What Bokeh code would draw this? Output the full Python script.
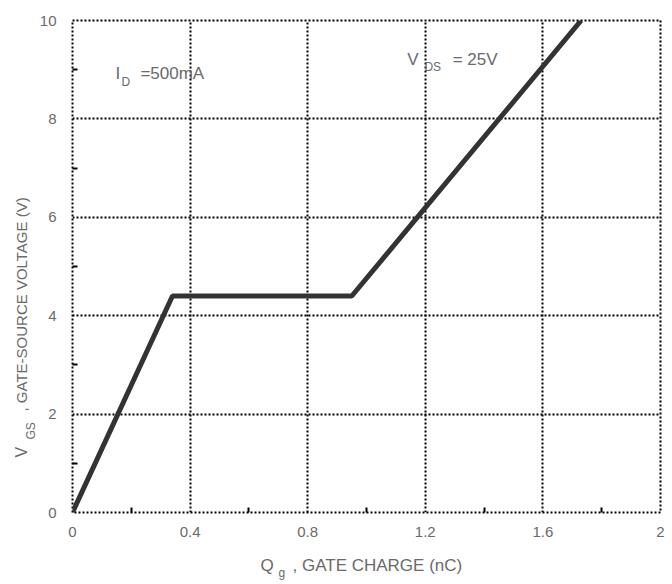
import math
from bokeh.plotting import figure
from bokeh.layouts import row, column
from bokeh.models import Range1d, FixedTicker, Label
from bokeh.embed import file_html
from bokeh.resources import INLINE

# Gate charge curve: Q_g (nC) vs V_GS (V)
qg = [0.0, 0.34, 0.95, 1.73]
vgs = [0.0, 4.4, 4.4, 10.0]

x_ticks = [0, 0.4, 0.8, 1.2, 1.6, 2]
x_tick_labels = ["0", "0.4", "0.8", "1.2", "1.6", "2"]
x_minor = [0.2, 0.6, 1.0, 1.4, 1.8]
y_ticks = [0, 2, 4, 6, 8, 10]
y_tick_labels = ["0", "2", "4", "6", "8", "10"]
y_minor = [1, 3, 5, 7, 9]

FONT = "Liberation Sans"
TXT = "#6a6a6a"

p = figure(width=636, height=544, output_backend="svg", toolbar_location=None,
           x_range=Range1d(0, 2), y_range=Range1d(0, 10),
           min_border_left=36, min_border_right=12, min_border_top=20,
           min_border_bottom=32, background_fill_color="white",
           border_fill_color="white")

p.outline_line_color = "black"
p.outline_line_width = 2
p.outline_line_dash = "2 2"

for ax in (p.xaxis[0], p.yaxis[0]):
    ax.axis_line_color = None
    ax.major_tick_line_color = None
    ax.minor_tick_line_color = "black"
    ax.minor_tick_line_width = 2
    ax.minor_tick_in = 5
    ax.minor_tick_out = 0
    ax.major_label_text_font = FONT
    ax.major_label_text_font_size = "15px"
    ax.major_label_text_color = TXT

p.xaxis.ticker = FixedTicker(ticks=x_ticks, minor_ticks=x_minor)
p.xaxis.major_label_overrides = {t: l for t, l in zip(x_ticks, x_tick_labels)}
p.xaxis.major_label_standoff = 8
p.yaxis.ticker = FixedTicker(ticks=y_ticks, minor_ticks=y_minor)
p.yaxis.major_label_overrides = {t: l for t, l in zip(y_ticks, y_tick_labels)}
p.yaxis.major_label_standoff = 10

p.grid.grid_line_color = "black"
p.grid.grid_line_width = 2
p.grid.grid_line_dash = "2 2"

p.line(qg, vgs, line_color="#333333", line_width=5)


def lab(fig, x, y, text, size="17px", angle=0, units="data"):
    fig.add_layout(Label(x=x, y=y, x_units=units, y_units=units, text=text,
                         text_font=FONT, text_font_size=size, text_color=TXT,
                         angle=angle, text_align="left",
                         text_baseline="middle"))


# in-plot annotations
lab(p, 0.146, 8.93, "I")
lab(p, 0.167, 8.74, "D", size="12px")
lab(p, 0.231, 8.93, "=500mA")
lab(p, 1.139, 9.2, "V")
lab(p, 1.197, 9.05, "DS", size="12px")
lab(p, 1.293, 9.2, "= 25V")


def title_strip(w, h):
    f = figure(width=w, height=h, output_backend="svg", toolbar_location=None,
               x_range=Range1d(0, w), y_range=Range1d(0, h),
               min_border=0, outline_line_color=None,
               background_fill_color="white", border_fill_color="white")
    f.axis.visible = False
    f.grid.visible = False
    return f


# y axis title strip, rotated text
ty = title_strip(36, 544)
a = math.pi / 2
lab(ty, 21, 55, "V", size="16px", angle=a, units="screen")
lab(ty, 30, 73, "GS", size="12px", angle=a, units="screen")
lab(ty, 21, 101, ",  GATE-SOURCE VOLTAGE (V)", size="15px", angle=a,
    units="screen")

# x axis title strip
tx = title_strip(672, 40)
lab(tx, 260, 19, "Q", size="17px", units="screen")
lab(tx, 278, 12, "g", size="12px", units="screen")
lab(tx, 292, 19, ",  GATE CHARGE (nC)", size="17px", units="screen")

layout = column(row(ty, p, spacing=0), tx, spacing=0)

open("out.html", "w").write(file_html(layout, INLINE))
